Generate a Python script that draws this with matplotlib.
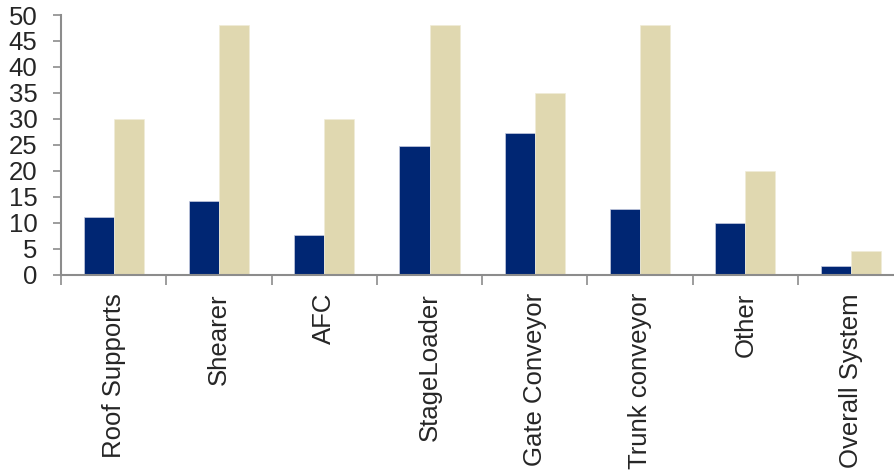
import matplotlib
matplotlib.use("Agg")
import matplotlib.pyplot as plt
import numpy as np

categories = ["Roof Supports", "Shearer", "AFC", "StageLoader", "Gate Conveyor",
              "Trunk conveyor", "Other", "Overall System"]
series_a = [11.1, 14.2, 7.6, 24.8, 27.4, 12.7, 10.0, 1.8]
series_b = [30, 48, 30, 48, 35, 48, 20, 4.7]
yticks = [0, 5, 10, 15, 20, 25, 30, 35, 40, 45, 50]

plt.rcParams['font.family'] = ['Liberation Sans', 'DejaVu Sans']

fig = plt.figure(figsize=(8.95, 4.76), dpi=100)
ax = fig.add_axes([61/895, (476-275)/476, (903.3-61)/895, 260/476])

x = np.arange(len(categories))
w = 0.285
gray = "#8c8c8c"
ax.bar(x - w/2, series_a, width=w, color="#002673", edgecolor="#c8cce0", linewidth=0.5)
ax.bar(x + w/2, series_b, width=w, color="#e0d8b0", edgecolor="#f0ecd8", linewidth=0.5)

ax.set_xlim(-0.5, len(categories) - 0.5)
ax.set_ylim(0, 50)
ax.set_yticks(yticks)
ax.set_yticklabels([str(v) for v in yticks], fontsize=18.5, color="#262626")
ax.tick_params(axis='y', direction='out', length=6, width=1.2, color=gray, pad=11)

ax.set_xticks(x)
ax.set_xticklabels(categories, rotation=90, fontsize=18.5, color="#262626", va='top')
ax.tick_params(axis='x', which='major', length=0, pad=13)
ax.set_xticks(np.arange(len(categories) + 1) - 0.5, minor=True)
ax.tick_params(axis='x', which='minor', direction='out', length=7, width=1.2, color=gray)

for s in ['top', 'right']:
    ax.spines[s].set_visible(False)
for s in ['left', 'bottom']:
    ax.spines[s].set_color(gray)
    ax.spines[s].set_linewidth(1.5)

fig.savefig("out.png", dpi=100)
